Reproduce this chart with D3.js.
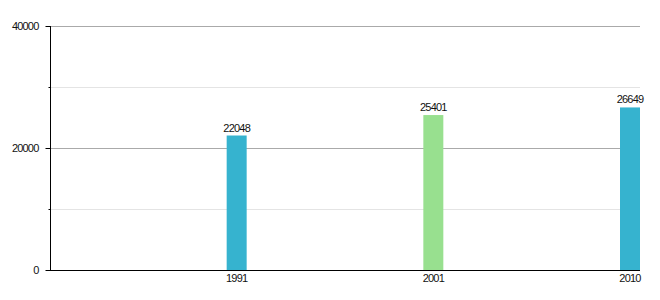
<!DOCTYPE html>
<html><head><meta charset="utf-8">
<script src="https://d3js.org/d3.v7.min.js"></script>
<style>body{margin:0;background:#fff;} text{font-family:"Liberation Sans",Arial,Helvetica,sans-serif;letter-spacing:-0.8px;}</style>
</head><body>
<svg id="c" width="660" height="300"></svg>
<script>
const categories = ["1991", "2001", "2010"];
const values = [22048, 25401, 26649];
const colors = ["#36b3cf", "#98e08f", "#36b3cf"];
const majorTicks = [0, 20000, 40000];
const minorTicks = [10000, 30000];

(function () {
const svg = d3.select("#c");
const mLeft = 50, mRight = 640, mTop = 26, mBottom = 270;
const barW = 20;
const x = d3.scaleBand().domain(categories).range([mLeft, mRight]);
const y = d3.scaleLinear().domain([0, 40000]).range([mBottom, mTop]);

// grid
svg.selectAll(".minor").data(minorTicks).enter().append("line")
  .attr("x1", mLeft).attr("x2", mRight).attr("y1", d => y(d) + 0.5).attr("y2", d => y(d) + 0.5)
  .attr("stroke", "#e4e4e4").attr("stroke-width", 1);
svg.selectAll(".major").data(majorTicks.filter(d => d > 0)).enter().append("line")
  .attr("x1", mLeft).attr("x2", mRight).attr("y1", d => y(d) + 0.5).attr("y2", d => y(d) + 0.5)
  .attr("stroke", "#aaaaaa").attr("stroke-width", 1);

// bars
const bx = (c) => x(c) + x.bandwidth() - barW;
svg.selectAll(".bar").data(categories).enter().append("rect")
  .attr("x", c => bx(c)).attr("width", barW)
  .attr("y", (c, i) => y(values[i])).attr("height", (c, i) => mBottom - y(values[i]))
  .attr("fill", (c, i) => colors[i]);

svg.selectAll(".val").data(categories).enter().append("text")
  .attr("x", c => bx(c) + barW / 2).attr("y", (c, i) => y(values[i]) - 4)
  .attr("text-anchor", "middle").attr("font-size", 11).attr("fill", "#111")
  .text((c, i) => values[i]);

// y axis
const yAxis = d3.axisLeft(y).tickValues(majorTicks).tickSize(5).tickFormat(d3.format("d"));
const ga = svg.append("g").attr("transform", `translate(${mLeft + 0.5},0)`).call(yAxis);
ga.select(".domain").remove();
ga.selectAll("line").attr("stroke", "#000");
ga.selectAll("text").attr("font-size", 11).attr("fill", "#111").attr("x", -12).style("font-family", '"Liberation Sans",Arial,sans-serif');
const gm = svg.append("g").attr("transform", `translate(${mLeft + 0.5},0)`)
  .call(d3.axisLeft(y).tickValues(minorTicks).tickSize(2).tickFormat(""));
gm.select(".domain").remove();
gm.selectAll("line").attr("stroke", "#000");

svg.append("line").attr("x1", mLeft + 0.5).attr("x2", mLeft + 0.5).attr("y1", mTop).attr("y2", mBottom + 0.5)
  .attr("stroke", "#000");
svg.append("line").attr("x1", mLeft).attr("x2", mRight).attr("y1", mBottom + 0.5).attr("y2", mBottom + 0.5)
  .attr("stroke", "#000");

// x labels
svg.selectAll(".xl").data(categories).enter().append("text")
  .attr("x", c => bx(c) + barW / 2).attr("y", 282)
  .attr("text-anchor", "middle").attr("font-size", 11).attr("fill", "#111")
  .text(c => c);
})();
</script>
</body></html>
